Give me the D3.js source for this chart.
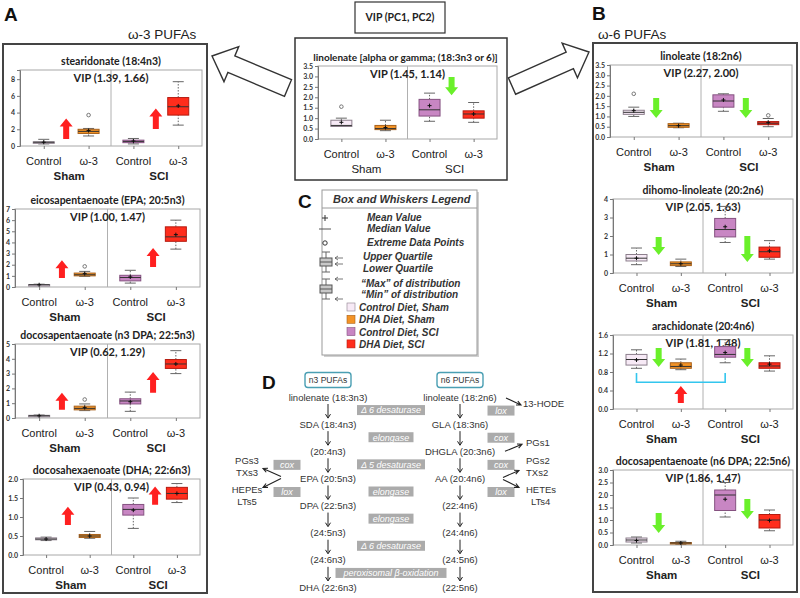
<!DOCTYPE html>
<html>
<head>
<meta charset="utf-8">
<script src="https://cdn.jsdelivr.net/npm/d3@7"></script>
<style>
  body { margin: 0; background: #fff; }
  svg { display: block; font-family: 'Liberation Sans', Arial, sans-serif; }
</style>
</head>
<body>
<svg id="fig" width="800" height="598"></svg>
<script>
// box stats per group: [min, q1, median, q3, max, mean]
const groupKeys = ['Control Sham', 'ω-3 Sham', 'Control SCI', 'ω-3 SCI'];
const groupLabels = ['Control', 'ω-3', 'Control', 'ω-3'];
const surgery = ['Sham', 'SCI'];
const groupFill = ['#f7eaf6', '#f39326', '#c886c3', '#ff2d1c'];
const groupStroke = ['#8c7f8c', '#a9621c', '#855280', '#b51b10'];

const stearidonate = [[0.25, 0.35, 0.45, 0.5, 0.8, 0.45], [1.2, 1.5, 1.75, 2.0, 2.1, 1.85], [0.25, 0.4, 0.55, 0.7, 0.9, 0.6], [2.5, 3.7, 4.7, 5.8, 7.7, 4.8]];
const epa = [[0.15, 0.17, 0.2, 0.22, 0.25, 0.2], [0.95, 1.0, 1.1, 1.25, 1.4, 1.2], [0.35, 0.55, 0.85, 1.05, 1.5, 0.9], [3.4, 4.1, 4.5, 5.4, 6.0, 4.7]];
const dpaN3 = [[0.1, 0.12, 0.15, 0.18, 0.2, 0.15], [0.5, 0.55, 0.65, 0.8, 0.95, 0.7], [0.45, 0.95, 1.15, 1.3, 1.75, 1.1], [3.0, 3.35, 3.65, 3.95, 4.55, 3.65]];
const dha = [[0.38, 0.4, 0.42, 0.45, 0.47, 0.42], [0.44, 0.46, 0.5, 0.54, 0.62, 0.5], [0.7, 1.05, 1.2, 1.33, 1.5, 1.18], [1.38, 1.47, 1.62, 1.78, 1.88, 1.62]];
const linolenate = [[0.6, 0.6, 0.65, 0.9, 1.0, 0.8], [0.4, 0.45, 0.5, 0.65, 0.9, 0.55], [0.85, 1.1, 1.4, 1.9, 2.2, 1.6], [0.8, 1.0, 1.2, 1.35, 1.75, 1.2]];
const linoleate = [[1.0, 1.1, 1.2, 1.3, 1.45, 1.28], [0.45, 0.47, 0.55, 0.65, 0.67, 0.55], [1.25, 1.45, 1.75, 2.05, 2.1, 1.8], [0.5, 0.6, 0.67, 0.75, 0.9, 0.7]];
const dihomo = [[0.45, 0.65, 0.8, 1.0, 1.35, 0.8], [0.35, 0.4, 0.5, 0.6, 0.75, 0.5], [1.65, 1.95, 2.35, 2.95, 3.6, 2.5], [0.75, 0.85, 1.15, 1.4, 1.75, 1.2]];
const arachidonate = [[0.88, 0.95, 1.07, 1.18, 1.28, 1.06], [0.85, 0.88, 0.92, 1.0, 1.08, 0.95], [1.0, 1.12, 1.18, 1.35, 1.5, 1.22], [0.82, 0.88, 0.93, 1.0, 1.15, 0.97]];
const dpaN6 = [[0.08, 0.12, 0.2, 0.28, 0.32, 0.18], [0.03, 0.05, 0.08, 0.1, 0.15, 0.08], [1.12, 1.38, 2.0, 2.2, 2.5, 1.83], [0.57, 0.68, 1.0, 1.22, 1.4, 0.98]];

// extreme points: [group index, value]
const stearidonateOut = [[1, 3.7]];
const epaOut = [[1, 1.85]];
const dpaN3Out = [[1, 1.25]];
const linolenateOut = [[0, 1.55]];
const linoleateOut = [[0, 2.1], [3, 1.05]];

// change arrows: [half (0 sham, 1 sci), from, to]
const stearidonateArrows = [[0, 0.85, 3.3], [1, 2.05, 4.5]];
const epaArrows = [[0, 0.8, 2.4], [1, 1.8, 3.5]];
const dpaN3Arrows = [[0, 0.55, 1.7], [1, 1.7, 3.1]];
const dhaArrows = [[0, 0.79, 1.27], [1, 1.32, 1.8]];
const linolenateArrows = [[1, 2.97, 2.1]];
const linoleateArrows = [[0, 1.9, 0.92], [1, 1.9, 0.92]];
const dihomoArrows = [[0, 1.95, 0.97], [1, 2.0, 0.6]];
const arachidonateArrows = [[0, 1.32, 0.91], [1, 1.32, 0.91]];
const dpaN6Arrows = [[0, 1.28, 0.48], [1, 1.84, 1.04]];

const vip = ['1.39, 1.66', '1.00, 1.47', '0.62, 1.29', '0.43, 0.94', '1.45, 1.14', '2.27, 2.00', '2.05, 1.63', '1.81, 1.48', '1.86, 1.47'];

// pathway
const n3Chain = ['linolenate (18:3n3)', 'SDA (18:4n3)', '(20:4n3)', 'EPA (20:5n3)', 'DPA (22:5n3)', '(24:5n3)', '(24:6n3)', 'DHA (22:6n3)'];
const n6Chain = ['linoleate (18:2n6)', 'GLA (18:3n6)', 'DHGLA (20:3n6)', 'AA (20:4n6)', '(22:4n6)', '(24:4n6)', '(24:5n6)', '(22:5n6)'];
const enzymes = ['Δ 6 desaturase', 'elongase', 'Δ 5 desaturase', 'elongase', 'elongase', 'Δ 6 desaturase', 'peroxisomal β-oxidation'];
const legendItems = ['Control Diet, Sham', 'DHA Diet, Sham', 'Control Diet, SCI', 'DHA Diet, SCI'];

const svg = d3.select('#fig');
const RED = '#ff2020';
const GREEN = '#6af02a';

function blockArrow(g, cx, yFrom, yTo, color) {
  const dir = yTo < yFrom ? -1 : 1;
  const neck = yTo - dir * 8;
  const pts = [[cx - 3, yFrom], [cx - 3, neck], [cx - 6.5, neck], [cx, yTo], [cx + 6.5, neck], [cx + 3, neck], [cx + 3, yFrom]];
  g.append('path').attr('d', d3.line()(pts) + 'Z').attr('fill', color);
}

function hollowArrow(tail, tip) {
  const dx = tip[0] - tail[0], dy = tip[1] - tail[1];
  const L = Math.hypot(dx, dy), ang = Math.atan2(dy, dx) * 180 / Math.PI;
  const pts = [[0, -9], [L - 21, -9], [L - 21, -19], [L, 0], [L - 21, 19], [L - 21, 9], [0, 9]];
  svg.append('path')
    .attr('transform', `translate(${tail[0]},${tail[1]}) rotate(${ang})`)
    .attr('d', d3.line()(pts) + 'Z')
    .attr('fill', '#fff').attr('stroke', '#333').attr('stroke-width', 1.4);
}

function drawPlot(p) {
  const g = svg.append('g');
  const w = p.x1 - p.x0;
  const y = d3.scaleLinear().domain([0, p.ymax]).range([p.y1, p.y0]);
  const x = d3.scalePoint().domain(groupKeys).range([p.x0, p.x1]).padding(0.53);
  const mid = p.x0 + w / 2;

  g.append('text').attr('x', mid + (p.titleDx || 0)).attr('y', p.y0 - 5)
    .attr('text-anchor', 'middle').attr('font-family', 'Lato, sans-serif')
    .attr('font-weight', 700).attr('font-size', p.titleSize || 10.5).attr('fill', '#222').text(p.title);

  g.append('rect').attr('x', p.x0).attr('y', p.y0).attr('width', w).attr('height', p.y1 - p.y0)
    .attr('fill', 'none').attr('stroke', '#a8a8a8');
  g.append('line').attr('x1', mid).attr('x2', mid).attr('y1', p.y0).attr('y2', p.y1)
    .attr('stroke', '#b0b0b0');

  const ax = g.append('g').attr('transform', `translate(${p.x0},0)`)
    .call(d3.axisLeft(y).tickValues(p.ticks).tickFormat(d3.format(p.fmt)).tickSize(3).tickPadding(2));
  ax.select('.domain').attr('stroke', '#777');
  ax.selectAll('.tick line').attr('stroke', '#777');
  ax.selectAll('.tick text').attr('font-size', 7).attr('font-weight', 700).attr('fill', '#333')
    .attr('font-family', 'Lato, sans-serif');

  const bx = g.append('g').attr('transform', `translate(0,${p.y1})`)
    .call(d3.axisBottom(x).tickSize(3).tickFormat(''));
  bx.select('.domain').remove();
  bx.selectAll('.tick line').attr('stroke', '#777');

  g.append('text').attr('x', mid).attr('y', p.y0 + 11.5).attr('text-anchor', 'middle')
    .attr('font-family', 'Lato, sans-serif').attr('font-weight', 700).attr('font-size', 11)
    .attr('fill', '#222').text(`VIP (${p.vip})`);

  const bw = 21, cw = 11;
  const boxes = g.selectAll('g.box').data(p.stats).join('g').attr('class', 'box')
    .attr('transform', (d, i) => `translate(${x(groupKeys[i])},0)`);
  boxes.append('line').attr('y1', d => y(d[0])).attr('y2', d => y(d[1]))
    .attr('stroke', '#666').attr('stroke-dasharray', '1.5,1.5');
  boxes.append('line').attr('y1', d => y(d[3])).attr('y2', d => y(d[4]))
    .attr('stroke', '#666').attr('stroke-dasharray', '1.5,1.5');
  boxes.append('line').attr('x1', -cw / 2).attr('x2', cw / 2).attr('y1', d => y(d[0])).attr('y2', d => y(d[0])).attr('stroke', '#666');
  boxes.append('line').attr('x1', -cw / 2).attr('x2', cw / 2).attr('y1', d => y(d[4])).attr('y2', d => y(d[4])).attr('stroke', '#666');
  boxes.append('rect').attr('x', -bw / 2).attr('width', bw)
    .attr('y', d => y(d[3])).attr('height', d => Math.max(1.5, y(d[1]) - y(d[3])))
    .attr('fill', (d, i) => groupFill[i]).attr('stroke', (d, i) => groupStroke[i]);
  boxes.append('line').attr('x1', -bw / 2).attr('x2', bw / 2).attr('y1', d => y(d[2])).attr('y2', d => y(d[2]))
    .attr('stroke', '#333');
  boxes.append('path').attr('d', d => `M-2,${y(d[5])}h4M0,${y(d[5]) - 2}v4`).attr('stroke', '#111');

  g.selectAll('circle.out').data(p.out || []).join('circle').attr('class', 'out')
    .attr('cx', d => x(groupKeys[d[0]])).attr('cy', d => y(d[1])).attr('r', 1.8)
    .attr('fill', 'none').attr('stroke', '#777');

  (p.arrows || []).forEach(a => {
    const cx = (x(groupKeys[a[0] * 2]) + x(groupKeys[a[0] * 2 + 1])) / 2;
    blockArrow(g, cx, y(a[1]), y(a[2]), a[2] > a[1] ? RED : GREEN);
  });

  g.selectAll('text.grp').data(groupLabels).join('text').attr('class', 'grp')
    .attr('x', (d, i) => x(groupKeys[i])).attr('y', p.y1 + 19).attr('text-anchor', 'middle')
    .attr('font-size', 11).attr('fill', '#222').text(d => d);
  g.selectAll('text.surg').data(surgery).join('text').attr('class', 'surg')
    .attr('x', (d, i) => (x(groupKeys[i * 2]) + x(groupKeys[i * 2 + 1])) / 2 + 3)
    .attr('y', p.y1 + 34).attr('text-anchor', 'middle').attr('font-size', 11.5)
    .attr('font-weight', p.plainSurgery ? 400 : 700).attr('fill', '#222').text(d => d);
  return { g, y, x };
}

// big hollow arrows behind the centre box
hollowArrow([288, 88], [212, 56]);
hollowArrow([512, 86], [589, 52]);

// panel frames
svg.append('rect').attr('x', 3).attr('y', 44).attr('width', 204).attr('height', 549)
  .attr('fill', '#fff').attr('stroke', '#444').attr('stroke-width', 2);
svg.append('rect').attr('x', 593).attr('y', 43).attr('width', 204).attr('height', 549)
  .attr('fill', '#fff').attr('stroke', '#444').attr('stroke-width', 2);
svg.append('rect').attr('x', 295).attr('y', 38).attr('width', 212).attr('height', 142)
  .attr('fill', '#fff').attr('stroke', '#333').attr('stroke-width', 1.5);
svg.append('rect').attr('x', 355).attr('y', 2).attr('width', 90).attr('height', 31)
  .attr('fill', '#fff').attr('stroke', '#333').attr('stroke-width', 1.2);
svg.append('text').attr('x', 400).attr('y', 21).attr('text-anchor', 'middle')
  .attr('font-family', 'Lato, sans-serif').attr('font-weight', 700).attr('font-size', 10.5)
  .attr('fill', '#222').text('VIP (PC1, PC2)');

const letters = [['A', 4, 21], ['B', 592, 20], ['C', 298, 208], ['D', 262, 389]];
svg.selectAll('text.letter').data(letters).join('text').attr('class', 'letter')
  .attr('x', d => d[1]).attr('y', d => d[2]).attr('font-size', 19).attr('font-weight', 700)
  .attr('fill', '#111').text(d => d[0]);
svg.append('text').attr('x', 128).attr('y', 39).attr('font-size', 13.5).attr('fill', '#222').text('ω-3 PUFAs');
svg.append('text').attr('x', 598).attr('y', 39).attr('font-size', 13.5).attr('fill', '#222').text('ω-6 PUFAs');

const plots = [
  { title: 'stearidonate (18:4n3)', stats: stearidonate, out: stearidonateOut, arrows: stearidonateArrows, vip: vip[0],
    x0: 20, x1: 202, y0: 70, y1: 146, ymax: 9.1, ticks: [0, 2, 4, 6, 8], fmt: 'd' },
  { title: 'eicosapentaenoate (EPA; 20:5n3)', stats: epa, out: epaOut, arrows: epaArrows, vip: vip[1],
    x0: 15, x1: 200, y0: 209, y1: 287, ymax: 7, ticks: d3.range(0, 8), fmt: 'd' },
  { title: 'docosapentaenoate (n3 DPA; 22:5n3)', stats: dpaN3, out: dpaN3Out, arrows: dpaN3Arrows, vip: vip[2],
    x0: 15, x1: 200, y0: 344, y1: 418, ymax: 5, ticks: d3.range(0, 6), fmt: 'd' },
  { title: 'docosahexaenoate (DHA; 22:6n3)', stats: dha, arrows: dhaArrows, vip: vip[3],
    x0: 23, x1: 200, y0: 479, y1: 555, ymax: 2, ticks: [0, 0.5, 1, 1.5, 2], fmt: '.1f' },
  { title: 'linolenate [alpha or gamma; (18:3n3 or 6)]', stats: linolenate, out: linolenateOut, arrows: linolenateArrows, vip: vip[4],
    x0: 318, x1: 497, y0: 66, y1: 139, ymax: 3.5, ticks: d3.range(0, 3.6, 0.5), fmt: '.1f', plainSurgery: true, titleSize: 10, titleDx: -2 },
  { title: 'linoleate (18:2n6)', stats: linoleate, out: linoleateOut, arrows: linoleateArrows, vip: vip[5],
    x0: 610, x1: 792, y0: 65, y1: 137, ymax: 3.5, ticks: d3.range(0, 3.6, 0.5), fmt: '.1f' },
  { title: 'dihomo-linoleate (20:2n6)', stats: dihomo, arrows: dihomoArrows, vip: vip[6],
    x0: 613, x1: 793, y0: 199, y1: 273, ymax: 4, ticks: d3.range(0, 5), fmt: 'd' },
  { title: 'arachidonate (20:4n6)', stats: arachidonate, arrows: arachidonateArrows, vip: vip[7],
    x0: 613, x1: 793, y0: 335, y1: 409, ymax: 1.6, ticks: [0, 0.4, 0.8, 1.2, 1.6], fmt: '.1f' },
  { title: 'docosapentaenoate (n6 DPA; 22:5n6)', stats: dpaN6, arrows: dpaN6Arrows, vip: vip[8],
    x0: 613, x1: 793, y0: 470, y1: 545, ymax: 3, ticks: d3.range(0, 3.1, 0.5), fmt: '.1f' }
];
const drawn = plots.map(drawPlot);

// arachidonate: bracket joining the two control groups, with the SCI-driven rise
{
  const { g, x, y } = drawn[7];
  const xa = x(groupKeys[0]), xb = x(groupKeys[2]);
  g.append('path').attr('d', `M${xa},${y(0.78)}V${y(0.58)}H${xb}V${y(0.78)}`)
    .attr('fill', 'none').attr('stroke', '#33c6ee').attr('stroke-width', 1.6);
  blockArrow(g, x(groupKeys[1]), y(0.13), y(0.5), RED);
}

// legend C
{
  const g = svg.append('g');
  g.append('rect').attr('x', 324).attr('y', 192).attr('width', 155).attr('height', 165).attr('fill', '#d0d0d0');
  g.append('rect').attr('x', 322).attr('y', 190).attr('width', 155).attr('height', 165)
    .attr('fill', '#fff').attr('stroke', '#9a9a9a');
  g.append('line').attr('x1', 322).attr('x2', 477).attr('y1', 208).attr('y2', 208).attr('stroke', '#9a9a9a');
  const t = (s, x, y, fs) => g.append('text').attr('x', x).attr('y', y).attr('font-size', fs || 10)
    .attr('font-weight', 700).attr('font-style', 'italic').attr('fill', '#333').text(s);
  t('Box and Whiskers Legend', 333, 203, 11);
  t('Mean Value', 367, 221);
  t('Median Value', 367, 232);
  t('Extreme Data Points', 367, 246);
  t('Upper Quartile', 363, 260);
  t('Lower Quartile', 363, 272);
  t('“Max” of distribution', 361, 287);
  t('“Min” of distribution', 361, 298);
  g.append('path').attr('d', 'M322,218h6M325,215v6').attr('stroke', '#333');
  g.append('line').attr('x1', 319).attr('x2', 331).attr('y1', 229).attr('y2', 229).attr('stroke', '#555');
  g.append('circle').attr('cx', 325).attr('cy', 243).attr('r', 2.2).attr('fill', 'none').attr('stroke', '#333');
  const icon = (cy, hi) => {
    g.append('path').attr('d', `M326,${cy - 10}V${cy + 10}M322,${cy - 10}h8M322,${cy + 10}h8`).attr('stroke', '#666');
    g.append('rect').attr('x', 320).attr('y', cy - 4).attr('width', 12).attr('height', 8)
      .attr('fill', '#c8c8c8').attr('stroke', '#555');
    g.append('line').attr('x1', 320).attr('x2', 332).attr('y1', cy).attr('y2', cy).attr('stroke', '#555');
    hi.forEach(yy => g.append('path').attr('d', `M343,${yy}H335M338,${yy - 2}L335,${yy}L338,${yy + 2}`)
      .attr('fill', 'none').attr('stroke', '#555').attr('stroke-width', 0.8));
  };
  icon(262, [258, 264]);
  icon(289, [279, 299]);
  g.selectAll('rect.sw').data(legendItems).join('rect').attr('class', 'sw')
    .attr('x', 347).attr('y', (d, i) => 303 + i * 12.3).attr('width', 8).attr('height', 8)
    .attr('fill', (d, i) => groupFill[i]).attr('stroke', (d, i) => groupStroke[i]).attr('stroke-width', 0.6);
  g.selectAll('text.sw').data(legendItems).join('text').attr('class', 'sw')
    .attr('x', 359).attr('y', (d, i) => 311 + i * 12.3).attr('font-size', 10).attr('font-weight', 700)
    .attr('font-style', 'italic').attr('fill', '#333').text(d => d);
}

// pathway D
{
  const g = svg.append('g').attr('font-size', 9.5).attr('fill', '#333');
  const row = d3.scalePoint().domain(d3.range(n3Chain.length)).range([397, 587]);
  const cx3 = 328, cx6 = 460, cxE = 391;
  const box = (x, y, label) => {
    g.append('rect').attr('x', x - 23).attr('y', y - 7.5).attr('width', 46).attr('height', 15).attr('rx', 3)
      .attr('fill', '#fff').attr('stroke', '#4a9fb3').attr('stroke-width', 1.4);
    g.append('text').attr('x', x).attr('y', y + 3.2).attr('text-anchor', 'middle').attr('font-size', 8.5).text(label);
  };
  box(328, 380, 'n3 PUFAs');
  box(460, 380, 'n6 PUFAs');

  [[n3Chain, cx3], [n6Chain, cx6]].forEach(([chain, cx]) => {
    g.selectAll(null).data(chain).join('text').attr('x', cx).attr('y', (d, i) => row(i) + 3.5)
      .attr('text-anchor', 'middle').text(d => d);
    g.selectAll(null).data(d3.range(chain.length - 1)).join('path')
      .attr('d', i => `M${cx},${row(i) + 7}V${row(i + 1) - 7}M${cx - 2.5},${row(i + 1) - 10}L${cx},${row(i + 1) - 6}L${cx + 2.5},${row(i + 1) - 10}`)
      .attr('fill', 'none').attr('stroke', '#222').attr('stroke-width', 1);
  });

  const tag = (x, y, label, wd) => {
    g.append('rect').attr('x', x - wd / 2).attr('y', y - 5).attr('width', wd).attr('height', 10).attr('fill', '#ababab');
    g.append('text').attr('x', x).attr('y', y + 3.3).attr('text-anchor', 'middle').attr('font-style', 'italic')
      .attr('fill', '#fff').attr('font-size', 9).text(label);
  };
  enzymes.forEach((e, i) => {
    const wd = e.startsWith('Δ') ? 68 : e.startsWith('per') ? 111 : 45;
    tag(cxE, (row(i) + row(i + 1)) / 2 - 0.5, e, wd);
  });
  const mid = i => (row(i) + row(i + 1)) / 2;
  [['lox', 0], ['cox', 1], ['cox', 2], ['lox', 3]].forEach(([e, i]) => tag(501, mid(i), e, 27));
  [['cox', 2], ['lox', 3]].forEach(([e, i]) => tag(287, mid(i), e, 27));

  const arrowLine = (x1, y1, x2, y2) => {
    const a = Math.atan2(y2 - y1, x2 - x1);
    const h = (s) => [x2 - 5 * Math.cos(a + s), y2 - 5 * Math.sin(a + s)];
    g.append('path').attr('d', `M${x1},${y1}L${x2},${y2}M${h(0.45)}L${x2},${y2}L${h(-0.45)}`)
      .attr('fill', 'none').attr('stroke', '#222').attr('stroke-width', 1.1);
  };
  arrowLine(506, row(0) + 1, 521, row(0) + 8);
  arrowLine(505, row(2), 522, row(2) - 7);
  arrowLine(503, row(3) - 1, 519, row(3) - 8);
  arrowLine(503, row(3) + 1, 519, row(3) + 9);
  arrowLine(281, row(3) - 2, 263, row(3) - 10);
  arrowLine(281, row(3), 263, row(3) + 9);

  const sideR = [['13-HODE', 523, row(0) + 10], ['PGs1', 526, row(2) - 5], ['PGs2', 526, row(3) - 14],
                 ['TXs2', 526, row(3) - 2], ['HETEs', 526, row(3) + 15], ['LTs4', 531, row(3) + 27]];
  sideR.forEach(([s, x, y]) => g.append('text').attr('x', x).attr('y', y).text(s));
  const sideL = [['PGs3', row(3) - 14], ['TXs3', row(3) - 2], ['HEPEs', row(3) + 15], ['LTs5', row(3) + 27]];
  sideL.forEach(([s, y]) => g.append('text').attr('x', 247).attr('y', y).attr('text-anchor', 'middle').text(s));
}
</script>
</body>
</html>
